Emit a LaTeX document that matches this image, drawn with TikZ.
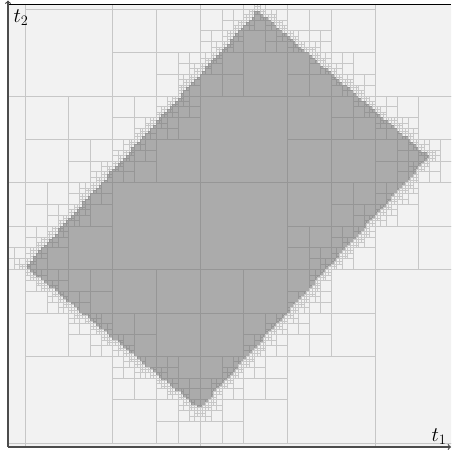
\documentclass[tikz,border=0pt]{standalone}
\definecolor{cellin}{gray}{0.67}
\definecolor{cellinline}{gray}{0.59}
\definecolor{cellout}{gray}{0.95}
\definecolor{celloutline}{gray}{0.78}
\definecolor{axisgray}{gray}{0.3}
\tikzset{
  incell/.style={fill=cellin,draw=cellinline,line width=0.6pt},
  outcell/.style={fill=cellout,draw=celloutline,line width=0.6pt},
  axisline/.style={draw=axisgray,line width=1.2pt,->},
  axislabel/.style={inner sep=0pt,font=\fontsize{20}{22}\selectfont},
}
% signed distance of (x,y) from the four sides of the tilted box
\newcommand\sideab[2]{(-0.6504*(#1)+0.7595*(#2)+161.7)}
\newcommand\sidebc[2]{(-0.7397*(#1)-0.6730*(#2)+425.25)}
\newcommand\sidecd[2]{(0.6337*(#1)-0.7736*(#2)+191.97)}
\newcommand\sideda[2]{(0.7406*(#1)+0.6720*(#2)-196.46)}
% how far a w x h cell reaches across each side
\newcommand\reachab[2]{((0.6504*(#1)+0.7595*(#2))/2)}
\newcommand\reachbc[2]{((0.7397*(#1)+0.6730*(#2))/2)}
\newcommand\reachcd[2]{((0.6337*(#1)+0.7736*(#2))/2)}
\newcommand\reachda[2]{((0.7406*(#1)+0.6720*(#2))/2)}
% cell x y w h depth
\newcommand\qcell[5]{%
  \begingroup
  \edef\qcx{\fpeval{#1+(#3)/2}}%
  \edef\qcy{\fpeval{#2+(#4)/2}}%
  \edef\qlo{\fpeval{min(\sideab\qcx\qcy-\reachab{#3}{#4},\sidebc\qcx\qcy-\reachbc{#3}{#4},\sidecd\qcx\qcy-\reachcd{#3}{#4},\sideda\qcx\qcy-\reachda{#3}{#4})}}%
  \edef\qhi{\fpeval{min(\sideab\qcx\qcy+\reachab{#3}{#4},\sidebc\qcx\qcy+\reachbc{#3}{#4},\sidecd\qcx\qcy+\reachcd{#3}{#4},\sideda\qcx\qcy+\reachda{#3}{#4})}}%
  \ifnum\fpeval{\qhi<0 || #1>432 || #1+#3<23 || #2>412 || #2+#4<8}=1
    \filldraw[outcell] (#1,#2) rectangle ++(#3,#4);%
  \else\ifnum\fpeval{\qlo>=0}=1
    \filldraw[incell] (#1,#2) rectangle ++(#3,#4);%
  \else\ifnum#5=0
    \filldraw[outcell] (#1,#2) rectangle ++(#3,#4);%
  \else
    \edef\qw{\fpeval{(#3)/2}}\edef\qh{\fpeval{(#4)/2}}%
    \edef\qxm{\fpeval{#1+\qw}}\edef\qym{\fpeval{#2+\qh}}%
    \edef\qnext{%
      \noexpand\qcell{#1}{#2}{\qw}{\qh}{\the\numexpr#5-1\relax}%
      \noexpand\qcell{\qxm}{#2}{\qw}{\qh}{\the\numexpr#5-1\relax}%
      \noexpand\qcell{#1}{\qym}{\qw}{\qh}{\the\numexpr#5-1\relax}%
      \noexpand\qcell{\qxm}{\qym}{\qw}{\qh}{\the\numexpr#5-1\relax}}%
    \qnext
  \fi\fi\fi
  \endgroup}
\begin{document}
\begin{tikzpicture}[x=1pt,y=-1pt]
    \useasboundingbox (0,0) rectangle (451,453);
    % cells
    \scope
    \clip (8,4) rectangle (451,447);
    \foreach \gx in {-150,25,200,375}
      \foreach \gy in {-77.8,95.8,269.4,443}
        {\qcell{\gx}{\gy}{175}{173.6}{6}}
    \endscope
    % axes
    \coordinate (origin) at (8,447);
    \coordinate (t1end) at (451,447);
    \coordinate (t2end) at (8,0.5);
    \coordinate (topleft) at (8,4);
    \coordinate (topright) at (451,4);
    \draw[line width=1pt] (topleft) -- (topright);
    \draw[axisline] (origin) -- (t1end);
    \draw[axisline] (origin) -- (t2end);
    \node[axislabel] (t1) at (439,437) {$t_1$};
    \node[axislabel] (t2) at (21,18) {$t_2$};
\end{tikzpicture}
\end{document}
